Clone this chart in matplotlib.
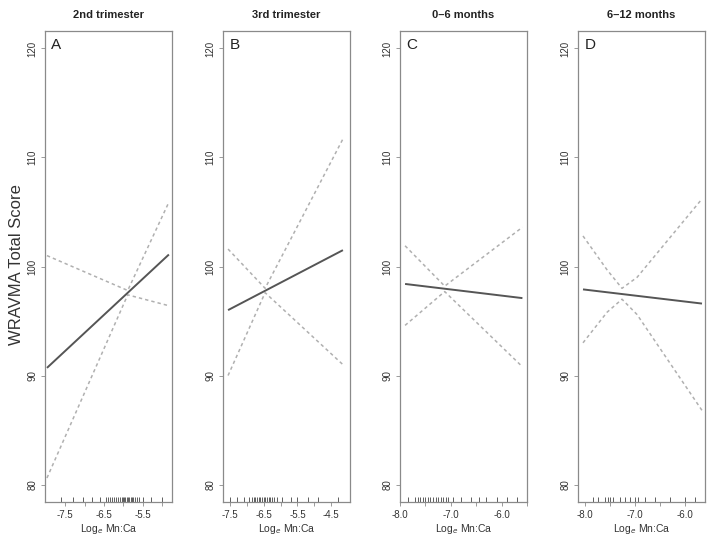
import matplotlib
matplotlib.use("Agg")
import matplotlib.pyplot as plt
import matplotlib.transforms as mtransforms

plt.rcParams['font.family'] = ['Liberation Sans', 'DejaVu Sans']

# ---------------- data ----------------
panel_titles = ["2nd trimester", "3rd trimester", "0\u20136 months", "6\u201312 months"]
panel_letters = ["A", "B", "C", "D"]

# fitted line (x endpoints, y endpoints)
fit_x_A = [-7.97, -4.83]; fit_y_A = [90.7, 101.1]
fit_x_B = [-7.56, -4.15]; fit_y_B = [96.0, 101.5]
fit_x_C = [-7.90, -5.59]; fit_y_C = [98.4, 97.1]
fit_x_D = [-8.04, -5.66]; fit_y_D = [97.9, 96.6]

# confidence bands
upper_x_A = [-7.97, -5.89, -4.83]; upper_y_A = [101.0, 97.8, 105.9]
lower_x_A = [-7.97, -5.89, -4.83]; lower_y_A = [80.6, 97.4, 96.4]
upper_x_B = [-7.56, -6.46, -4.15]; upper_y_B = [101.6, 98.0, 111.7]
lower_x_B = [-7.56, -6.46, -4.15]; lower_y_B = [90.0, 97.6, 91.0]
upper_x_C = [-7.90, -7.12, -5.59]; upper_y_C = [101.9, 98.2, 103.6]
lower_x_C = [-7.90, -7.12, -5.59]; lower_y_C = [94.6, 97.7, 90.8]
upper_x_D = [-8.04, -7.56, -7.26, -6.96, -5.66]; upper_y_D = [102.8, 99.7, 98.0, 99.0, 106.2]
lower_x_D = [-8.04, -7.56, -7.26, -6.96, -5.66]; lower_y_D = [93.0, 95.8, 97.0, 95.6, 86.8]

# rug (observed exposure values)
rug_A = [-7.6, -7.3, -7.05, -6.8, -6.6, -6.45, -6.4, -6.35, -6.3, -6.25, -6.2, -6.15, -6.1,
         -6.05, -6.0, -5.98, -5.95, -5.9, -5.88, -5.85, -5.8, -5.78, -5.75, -5.7, -5.65, -5.6,
         -5.5, -5.3, -5.0]
rug_B = [-7.5, -7.3, -7.1, -6.95, -6.85, -6.8, -6.75, -6.7, -6.65, -6.6, -6.55, -6.5, -6.45,
         -6.4, -6.35, -6.3, -6.25, -6.2, -6.1, -5.95, -5.7, -5.5, -5.2, -4.9, -4.3]
rug_C = [-7.85, -7.7, -7.65, -7.6, -7.55, -7.5, -7.45, -7.4, -7.35, -7.3, -7.25, -7.2, -7.15,
         -7.1, -7.05, -6.95, -6.8, -6.6, -6.45, -6.3, -6.1, -5.9, -5.7]
rug_D = [-7.85, -7.75, -7.6, -7.55, -7.5, -7.45, -7.3, -7.2, -7.1, -7.0, -6.95, -6.8, -6.6,
         -6.3, -6.0, -5.8]

# axis ticks
xticks_A = [-7.5, -7.0, -6.5, -6.0, -5.5, -5.0]; xlabels_A = ["-7.5", "", "-6.5", "", "-5.5", ""]
xticks_B = [-7.5, -7.0, -6.5, -6.0, -5.5, -5.0, -4.5]; xlabels_B = ["-7.5", "", "-6.5", "", "-5.5", "", "-4.5"]
xticks_C = [-8.0, -7.5, -7.0, -6.5, -6.0, -5.5]; xlabels_C = ["-8.0", "", "-7.0", "", "-6.0", ""]
xticks_D = [-8.0, -7.5, -7.0, -6.5, -6.0]; xlabels_D = ["-8.0", "", "-7.0", "", "-6.0"]
yticks = [80, 90, 100, 110, 120]

xlims = [(-8.02, -4.75), (-7.71, -3.94), (-8.0, -5.51), (-8.14, -5.60)]
ylim = (78.4, 121.6)

fits = [(fit_x_A, fit_y_A), (fit_x_B, fit_y_B), (fit_x_C, fit_y_C), (fit_x_D, fit_y_D)]
uppers = [(upper_x_A, upper_y_A), (upper_x_B, upper_y_B), (upper_x_C, upper_y_C), (upper_x_D, upper_y_D)]
lowers = [(lower_x_A, lower_y_A), (lower_x_B, lower_y_B), (lower_x_C, lower_y_C), (lower_x_D, lower_y_D)]
rugs = [rug_A, rug_B, rug_C, rug_D]
xtick_sets = [(xticks_A, xlabels_A), (xticks_B, xlabels_B), (xticks_C, xlabels_C), (xticks_D, xlabels_D)]

# ---------------- figure ----------------
W, H = 715, 544
fig = plt.figure(figsize=(W / 100, H / 100), dpi=100)

lefts_px = [45, 223, 400, 578]
width_px = 127
top_px, bottom_px = 31, 502

axis_col = "#8a8a8a"
for i in range(4):
    ax = fig.add_axes([lefts_px[i] / W, 1 - bottom_px / H, width_px / W, (bottom_px - top_px) / H])
    fx, fy = fits[i]
    ux, uy = uppers[i]
    lx, ly = lowers[i]
    ax.plot(ux, uy, color="#b0b0b0", lw=1.1, linestyle=(0, (2.2, 2.0)))
    ax.plot(lx, ly, color="#b0b0b0", lw=1.1, linestyle=(0, (2.2, 2.0)))
    ax.plot(fx, fy, color="#555555", lw=1.4, solid_capstyle="butt")

    trans = mtransforms.blended_transform_factory(ax.transData, ax.transAxes)
    ax.vlines(rugs[i], 0.0, 0.011, transform=trans, color="#444444", lw=0.6)

    ax.set_xlim(*xlims[i])
    ax.set_ylim(*ylim)
    tks, lbls = xtick_sets[i]
    ax.set_xticks(tks)
    ax.set_xticklabels(lbls)
    ax.set_yticks(yticks)
    ax.set_yticklabels([str(v) for v in yticks], rotation=90, va="center")
    ax.tick_params(axis="both", labelsize=7, length=3, width=0.6, color=axis_col,
                   labelcolor="#333333", pad=2.5)
    for sp in ax.spines.values():
        sp.set_color(axis_col)
        sp.set_linewidth(0.9)
    ax.set_title(panel_titles[i], fontsize=8, fontweight="bold", pad=9, color="#222222")
    ax.text(0.05, 0.985, panel_letters[i], transform=ax.transAxes, ha="left", va="top",
            fontsize=11, color="#222222")
    ax.set_xlabel("Log$_e$ Mn:Ca", fontsize=7.5, labelpad=2, color="#333333")

fig.text(17 / W, 1 - 265 / H, "WRAVMA Total Score", rotation=90, ha="center", va="center",
         fontsize=12, color="#333333")

fig.savefig("out.png", dpi=100)
